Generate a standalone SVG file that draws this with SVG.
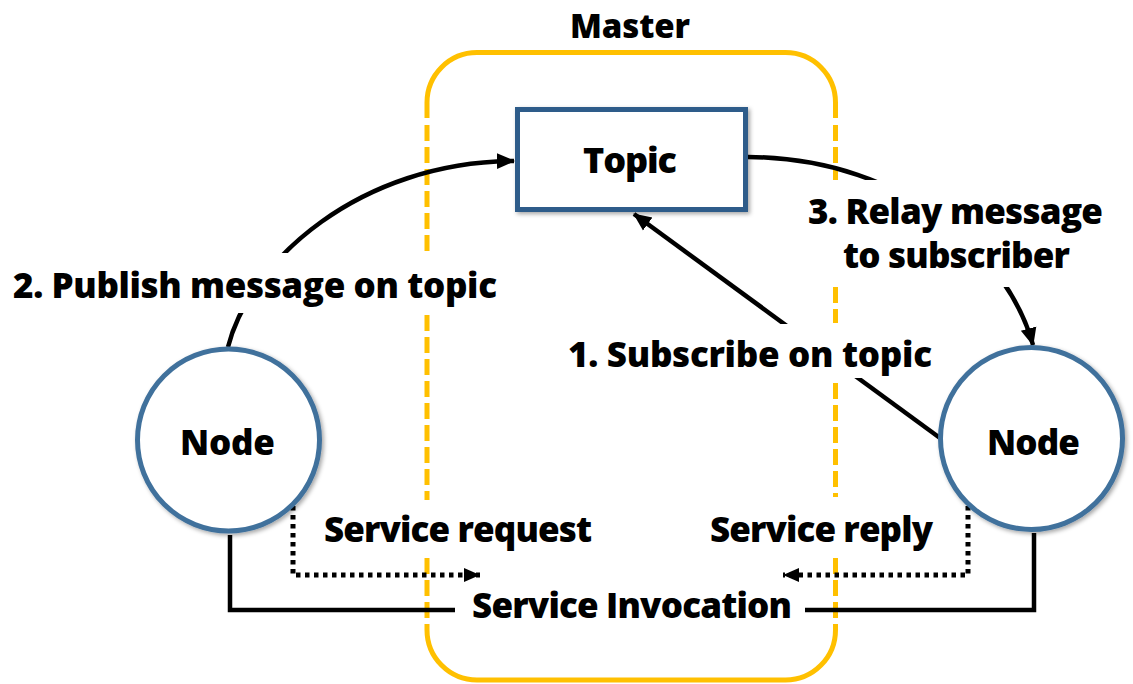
<svg xmlns="http://www.w3.org/2000/svg" width="1133" height="684" viewBox="0 0 1133 684">
  <style>
    .lbl { font-family: "Open Sans", "Liberation Sans", sans-serif; font-weight: 800; font-size: 35px; fill: #000; }
    .master { fill: none; stroke: #FFC000; stroke-width: 5; }
    .mdash { fill: none; stroke: #FFC000; stroke-width: 5; stroke-dasharray: 16 6; }
    .conn { fill: none; stroke: #000; stroke-width: 4.5; }
    .dot { fill: none; stroke: #000; stroke-width: 5; stroke-dasharray: 4.5 4.5; }
    .bg { fill: #fff; }
    .node { fill: #fff; stroke: #41719C; stroke-width: 5; }
    .topic { fill: #fff; stroke: #2E5C8A; stroke-width: 5; }
  </style>
  <defs>
    <filter id="shadow" x="-20%" y="-20%" width="140%" height="140%">
      <feDropShadow dx="2" dy="2" stdDeviation="2" flood-color="#000" flood-opacity="0.35"/>
    </filter>
    <marker id="arrow" markerUnits="userSpaceOnUse" markerWidth="18" markerHeight="18" viewBox="0 0 18 18" refX="17" refY="9" orient="auto">
      <path d="M0,1 L18,9 L0,17 z" fill="#000"/>
    </marker>
    <marker id="arrowSmall" markerUnits="userSpaceOnUse" markerWidth="16" markerHeight="14" viewBox="0 0 16 14" refX="16" refY="7" orient="auto">
      <path d="M0,0 L16,7 L0,14 z" fill="#000"/>
    </marker>
  </defs>

  <g id="master">
    <path class="master" d="M427,118 L427,102.5 A50,50 0 0 1 477,52.5 L785.5,52.5 A50,50 0 0 1 835.5,102.5 L835.5,118"/>
    <path class="master" d="M427,630 A50,50 0 0 0 477,680 L785.5,680 A50,50 0 0 0 835.5,630"/>
    <path class="mdash" d="M427,125 V253 M427,315 V500 M427,558 V630"/>
    <path class="mdash" d="M835.5,125 V180 M835.5,287 V323 M835.5,383 V497 M835.5,558 V630"/>
    <text class="lbl" x="570" y="38" textLength="120" style="font-size:33px">Master</text>
  </g>

  <g id="connectors">
    <path class="conn" d="M228,347 C250,260 360,162 514,161" marker-end="url(#arrow)"/>
    <path class="conn" d="M748,157 C910,158 1010,260 1033,345" marker-end="url(#arrow)"/>
    <path class="conn" d="M940,438 L634,214" marker-end="url(#arrow)"/>
    <path class="dot" d="M293,506 V575 H480" marker-end="url(#arrowSmall)"/>
    <path class="dot" d="M968,506 V575 H783" marker-end="url(#arrowSmall)"/>
    <path class="conn" d="M230,535 V610 H1034 V533"/>
  </g>

  <g id="labels">
    <rect class="bg" x="5" y="253" width="500" height="60"/>
    <text class="lbl" x="13" y="298" textLength="484">2. Publish message on topic</text>
    <rect class="bg" x="800" y="180" width="310" height="107"/>
    <text class="lbl" x="808" y="224" textLength="295">3. Relay message</text>
    <text class="lbl" x="843" y="268" textLength="227">to subscriber</text>
    <rect class="bg" x="560" y="324" width="375" height="54"/>
    <text class="lbl" x="568" y="367" textLength="364">1. Subscribe on topic</text>
    <text class="lbl" x="324" y="542" textLength="268">Service request</text>
    <text class="lbl" x="710" y="542" textLength="223">Service reply</text>
    <rect class="bg" x="455" y="588" width="350" height="40"/>
    <text class="lbl" x="472" y="618" textLength="320">Service Invocation</text>
  </g>

  <g id="topic">
    <rect class="topic" x="517.5" y="109.5" width="228" height="100" filter="url(#shadow)"/>
    <text class="lbl" x="583" y="173" textLength="94" style="font-size:36px">Topic</text>
  </g>

  <g id="node-left">
    <circle class="node" cx="228.5" cy="440" r="91" filter="url(#shadow)"/>
    <text class="lbl" x="180" y="455" textLength="95">Node</text>
  </g>

  <g id="node-right">
    <circle class="node" cx="1031.5" cy="438.5" r="91" filter="url(#shadow)"/>
    <text class="lbl" x="987" y="455" textLength="93">Node</text>
  </g>
</svg>
